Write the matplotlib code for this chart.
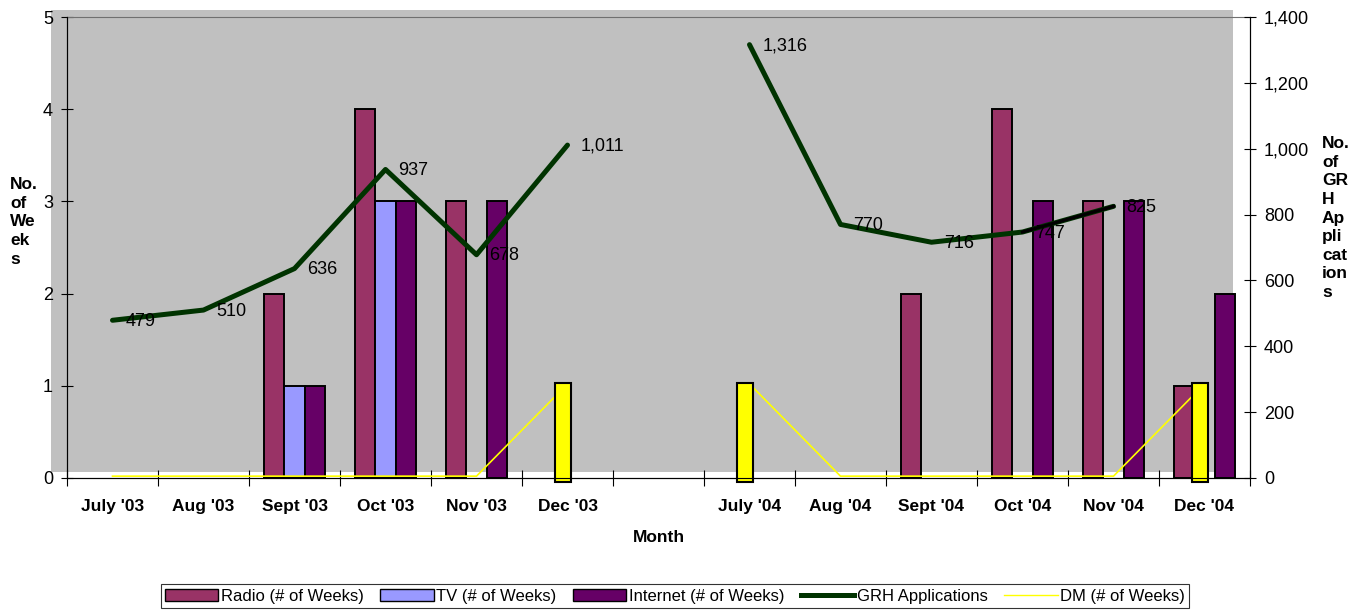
import matplotlib
matplotlib.use("Agg")
import matplotlib.pyplot as plt
import numpy as np
from matplotlib.patches import Rectangle, Patch
from matplotlib.lines import Line2D
from matplotlib.ticker import FuncFormatter, FixedLocator, NullFormatter

plt.rcParams["font.family"] = ["Liberation Sans", "DejaVu Sans"]

# ── Data ─────────────────────────────────────────────────────────────────────
months = ["July '03", "Aug '03", "Sept '03", "Oct '03", "Nov '03", "Dec '03", "",
          "July '04", "Aug '04", "Sept '04", "Oct '04", "Nov '04", "Dec '04"]
radio    = [0, 0, 2, 4, 3, 0, np.nan, 0, 0, 2, 4, 3, 1]
tv       = [0, 0, 1, 3, 0, 0, np.nan, 0, 0, 0, 0, 0, 0]
internet = [0, 0, 1, 3, 3, 0, np.nan, 0, 0, 0, 3, 3, 2]
dm       = [0, 0, 0, 0, 0, 1, np.nan, 1, 0, 0, 0, 0, 1]
grh      = [479, 510, 636, 937, 678, 1011, np.nan, 1316, 770, 716, 747, 825, np.nan]

C_RADIO = "#993366"
C_TV = "#9999FF"
C_NET = "#660066"
C_GRH = "#003300"
C_DM = "#FFFF00"


def nz(vals):
    # zero-height bars are not drawn (no stray outline on the axis)
    a = np.array(vals, dtype=float)
    return np.where(a > 0, a, np.nan)


x = np.arange(len(months))
fig = plt.figure(figsize=(13.66, 6.10), dpi=100)

# gray plot area (Excel style, a bit larger than the axes)
fig.patches.append(Rectangle((51 / 1366, 1 - 472 / 610), (1233 - 51) / 1366, (472 - 10) / 610,
                             transform=fig.transFigure, facecolor="#C0C0C0",
                             edgecolor="none", zorder=-10))

ax = fig.add_axes([67 / 1366, 1 - 478 / 610, (1250 - 67) / 1366, (478 - 17) / 610])
ax.set_facecolor("none")

bw = 0.223
ax.bar(x - bw, nz(radio), bw, color=C_RADIO, edgecolor="black", lw=1.4, zorder=2)
ax.bar(x, nz(tv), bw, color=C_TV, edgecolor="black", lw=1.4, zorder=2)
ax.bar(x + bw, nz(internet), bw, color=C_NET, edgecolor="black", lw=1.4, zorder=2)

dm_arr = np.array(dm, dtype=float)
ax.plot(x, dm_arr + 0.02, color=C_DM, lw=1.2, zorder=3, clip_on=False)
dm_bar = np.where(dm_arr > 0, dm_arr + 0.07, np.nan)
ax.bar(x - 0.05, dm_bar, 0.18, bottom=-0.04,
       color=C_DM, edgecolor="black", lw=1.5, zorder=4, clip_on=False)

ax.set_xlim(-0.5, len(months) - 0.5)
ax.set_ylim(0, 5)
ax.set_yticks(range(6))
ax.tick_params(axis="y", direction="inout", length=8, labelsize=13, pad=6)
ax.xaxis.set_major_locator(FixedLocator(np.arange(-0.5, len(months), 1)))
ax.xaxis.set_major_formatter(NullFormatter())
ax.xaxis.set_minor_locator(FixedLocator(x))
ax.set_xticklabels(months, minor=True, fontsize=12.5, fontweight="bold")
ax.tick_params(axis="x", which="major", direction="inout", length=12)
ax.tick_params(axis="x", which="minor", length=0, pad=15)
ax.spines["top"].set_color("#707070")
for s in ("left", "bottom", "right"):
    ax.spines[s].set_color("black")
ax.set_xlabel("Month", fontsize=12.5, fontweight="bold", labelpad=12)

ax2 = ax.twinx()
grh_arr = np.array(grh, dtype=float)
ax2.plot(x, grh_arr, color=C_GRH, lw=3.6, zorder=5, solid_capstyle="round")
ax2.plot(x[10:12], grh_arr[10:12], color="black", lw=2.4, zorder=6)
for xi, v in zip(x, grh_arr):
    if not np.isnan(v):
        ax2.text(xi + 0.14, v - 3, f"{int(v):,}", fontsize=13, ha="left",
                 va="center", color="black", zorder=7)
ax2.set_ylim(0, 1400)
ax2.set_yticks(range(0, 1401, 200))
ax2.yaxis.set_major_formatter(FuncFormatter(lambda v, p: f"{int(v):,}"))
ax2.tick_params(axis="y", direction="inout", length=8, labelsize=13, pad=6)
ax2.spines["top"].set_visible(False)

fig.text(10 / 1366, 1 - 222 / 610, "No.\nof\nWe\nek\ns", fontsize=12.5,
         fontweight="bold", ha="left", va="center", linespacing=1.3)
fig.text(1322 / 1366, 1 - 218 / 610, "No.\nof\nGR\nH\nAp\npli\ncat\nion\ns", fontsize=12.5,
         fontweight="bold", ha="left", va="center", linespacing=1.3)

handles = [
    Patch(facecolor=C_RADIO, edgecolor="black", label="Radio (# of Weeks)"),
    Patch(facecolor=C_TV, edgecolor="black", label="TV (# of Weeks)"),
    Patch(facecolor=C_NET, edgecolor="black", label="Internet (# of Weeks)"),
    Line2D([0], [0], color=C_GRH, lw=3.6, label="GRH Applications"),
    Line2D([0], [0], color=C_DM, lw=1, label="DM (# of Weeks)"),
]
leg = fig.legend(handles=handles, loc="center", bbox_to_anchor=(675 / 1366, 1 - 596 / 610),
                 ncol=5, frameon=True, fancybox=False, edgecolor="black",
                 handlelength=3.2, handletextpad=0.15, columnspacing=1.0,
                 borderpad=0.25, prop={"size": 12})
leg.get_frame().set_linewidth(0.8)

fig.savefig("out.png", dpi=100)
